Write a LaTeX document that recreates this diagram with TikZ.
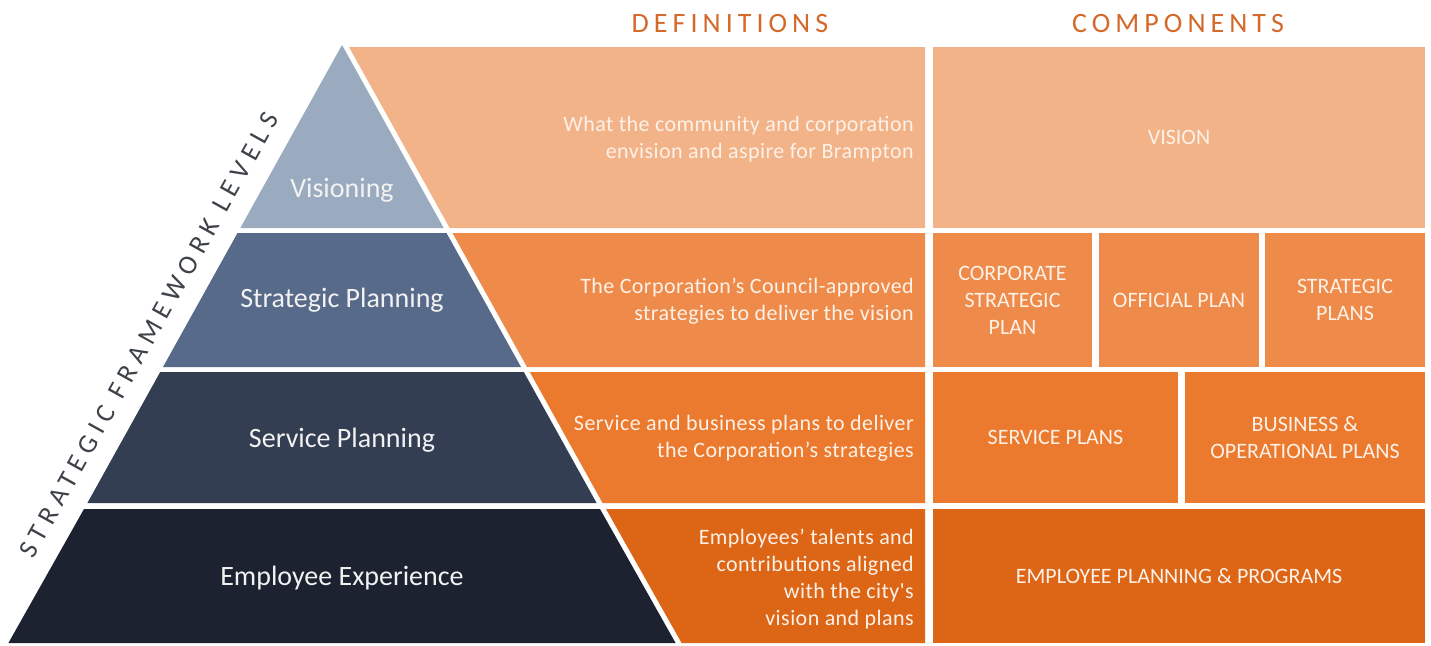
\documentclass[tikz,border=0pt]{standalone}
\usepackage{fontspec}
\setmainfont{Carlito}
\newfontfamily\widefont[LetterSpace=18]{Carlito}
\newfontfamily\widerfont[LetterSpace=24]{Carlito}
\newfontfamily\looserfont[LetterSpace=2]{Carlito}
\usepackage{tikz}

\definecolor{visioncol}{HTML}{9AAABF}
\definecolor{stratcol}{HTML}{586A89}
\definecolor{servcol}{HTML}{333E52}
\definecolor{emplcol}{HTML}{1C2230}
\definecolor{orangeA}{HTML}{F3B389}
\definecolor{orangeB}{HTML}{EE8B4A}
\definecolor{orangeC}{HTML}{EB7A2E}
\definecolor{orangeD}{HTML}{DD6516}
\definecolor{headcol}{HTML}{D4692A}
\definecolor{sidecol}{HTML}{3E4249}
\definecolor{lighttext}{HTML}{F2F2F2}
\definecolor{paletext}{HTML}{FDF1E8}

\begin{document}
\begin{tikzpicture}[x=1pt,y=-1pt,
    every node/.style={inner sep=0pt},
    level/.style={text=lighttext,font=\fontsize{28}{32}\selectfont},
    defn/.style={text=paletext,align=right,anchor=east,font=\looserfont\fontsize{22}{27}\selectfont},
    comp/.style={text=paletext,align=center,font=\fontsize{22}{27}\selectfont},
    heading/.style={text=headcol,font=\widefont\fontsize{28}{32}\selectfont}]

  \useasboundingbox[fill=white] (0,0) rectangle (1431,645);

  % pyramid levels
  \fill[visioncol] (342,45) -- (443.7,228) -- (240.3,228) -- cycle;
  \fill[stratcol] (237.5,233) -- (446.5,233) -- (521,367) -- (163,367) -- cycle;
  \fill[servcol] (160.2,372) -- (523.8,372) -- (596.6,503) -- (87.4,503) -- cycle;
  \fill[emplcol] (84,509) -- (600,509) -- (675.6,643) -- (8.4,643) -- cycle;

  % definition bands
  \fill[orangeA] (349,47) -- (925,47) -- (925,228) -- (449.7,228) -- cycle;
  \fill[orangeB] (452.5,233) -- (925,233) -- (925,367) -- (527,367) -- cycle;
  \fill[orangeC] (529.8,372) -- (925,372) -- (925,503) -- (602.6,503) -- cycle;
  \fill[orangeD] (606,509) -- (925,509) -- (925,643) -- (681.6,643) -- cycle;

  \node[level] (visioning) at (342,190) {Visioning};
  \node[level] (strategic) at (342,300) {Strategic Planning};
  \node[level] (service) at (342,440) {Service Planning};
  \node[level] (employee) at (342,578) {Employee Experience};

  \node[text=sidecol,font=\widerfont\fontsize{27}{32}\selectfont,rotate=60.9]
    (sidelabel) at (149,335) {STRATEGIC FRAMEWORK LEVELS};

  \node[heading] (defhead) at (730,24) {DEFINITIONS};
  \node[heading] (comphead) at (1178,24) {COMPONENTS};

  \node[defn] (defvision) at (914,139) {What the community and corporation\\envision and aspire for Brampton};
  \node[defn] (defstrat) at (914,301.5) {The Corporation’s Council-approved\\strategies to deliver the vision};
  \node[defn] (defserv) at (914,438.5) {Service and business plans to deliver\\the Corporation’s strategies};
  \node[defn] (defempl) at (914,579) {Employees’ talents and\\contributions aligned\\with the city's\\vision and plans};

  % components
  \node[comp,fill=orangeA,minimum width=492,minimum height=181] (vision) at (1179,137.5) {VISION};
  \node[comp,fill=orangeB,minimum width=159,minimum height=134] (corpplan) at (1012.5,300) {CORPORATE\\STRATEGIC\\PLAN};
  \node[comp,fill=orangeB,minimum width=160,minimum height=134] (offplan) at (1179,300) {OFFICIAL PLAN};
  \node[comp,fill=orangeB,minimum width=160,minimum height=134] (stratplans) at (1345,300) {STRATEGIC\\PLANS};
  \node[comp,fill=orangeC,minimum width=245,minimum height=131] (servplans) at (1055.5,437.5) {SERVICE PLANS};
  \node[comp,fill=orangeC,minimum width=240,minimum height=131] (busplans) at (1305,437.5) {BUSINESS \&\\OPERATIONAL PLANS};
  \node[comp,fill=orangeD,minimum width=492,minimum height=134] (emplplans) at (1179,576) {EMPLOYEE PLANNING \& PROGRAMS};

\end{tikzpicture}
\end{document}
